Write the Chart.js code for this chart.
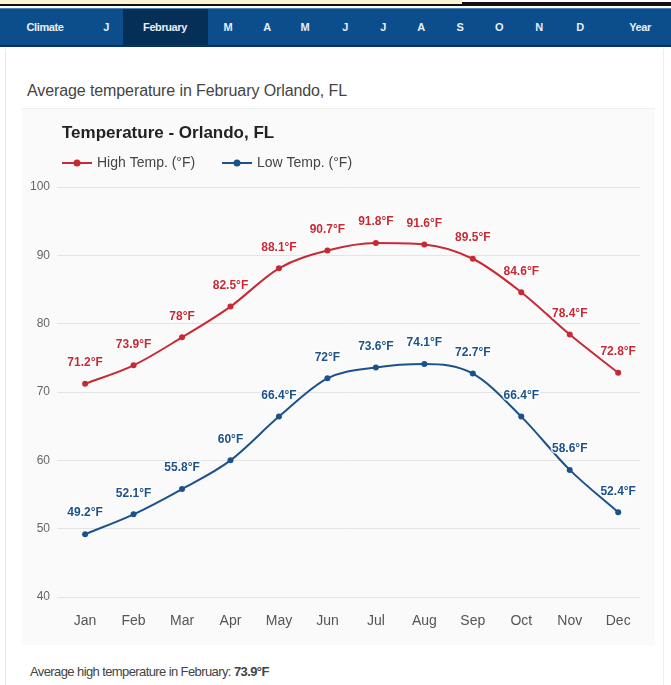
<!DOCTYPE html>
<html>
<head>
<meta charset="utf-8">
<script src="https://cdn.jsdelivr.net/npm/chart.js@4/dist/chart.umd.min.js"></script>
<style>
  html, body { margin: 0; padding: 0; background: #fff; width: 671px; height: 685px; overflow: hidden; font-family: "Liberation Sans", Arial, sans-serif; }
  #cream { position: absolute; left: 0; top: 0; width: 462px; height: 4px; background: #fbf3d5; }
  #blackline { position: absolute; left: 0; top: 4px; width: 671px; height: 2px; background: #111; }
  #blackline2 { position: absolute; left: 462px; top: 2px; width: 209px; height: 3px; background: #111; }
  #nav { position: absolute; left: 0; top: 8px; width: 671px; height: 39px; background: #0c4d8c; border-top: 1px solid #4a7fb5; border-bottom: 2px solid #07335f; box-sizing: border-box; }
  #navsel { position: absolute; left: 123px; top: 0; width: 85px; height: 100%; background: #062f58; }
  .ni { position: absolute; top: 12px; transform: translateX(-50%); color: #e8eef6; font-size: 11px; font-weight: bold; letter-spacing: -0.4px; white-space: nowrap; }
  #page { position: absolute; left: 5px; top: 49px; width: 657px; height: 640px; border-left: 1px solid #e8e8e8; border-right: 1px solid #eee; }
  #heading { position: absolute; left: 27px; top: 82px; font-size: 16px; color: #444; letter-spacing: -0.1px; white-space: nowrap; }
  #box { position: absolute; left: 22px; top: 108px; width: 633px; height: 537px; background: #fafafa; border-top: 1px solid #eee; box-sizing: border-box; }
  #cv { position: absolute; left: 22px; top: 108px; }
  #foot { position: absolute; left: 30px; top: 664px; font-size: 13px; color: #444; letter-spacing: -0.6px; white-space: nowrap; }
</style>
</head>
<body>
<div id="cream"></div>
<div id="blackline"></div>
<div id="blackline2"></div>
<div id="nav"><div id="navsel"></div></div>
<div id="page"></div>
<div id="heading">Average temperature in February Orlando, FL</div>
<div id="box"></div>
<canvas id="cv" width="633" height="537"></canvas>
<div id="foot">Average high temperature in February: <b>73.9°F</b></div>
<script>
// ---- data ----
const months = ["Jan","Feb","Mar","Apr","May","Jun","Jul","Aug","Sep","Oct","Nov","Dec"];
const highTemps = [71.2, 73.9, 78, 82.5, 88.1, 90.7, 91.8, 91.6, 89.5, 84.6, 78.4, 72.8];
const lowTemps = [49.2, 52.1, 55.8, 60, 66.4, 72, 73.6, 74.1, 72.7, 66.4, 58.6, 52.4];
const yTicks = [40, 50, 60, 70, 80, 90, 100];
const navLabels = ["Climate","J","February","M","A","M","J","J","A","S","O","N","D","Year"];
const navCenters = [45,106,165,228,267,305,345,383,421,460,499,539,580,640];
const chartTitle = "Temperature - Orlando, FL";
const highLabel = "High Temp. (°F)";
const lowLabel = "Low Temp. (°F)";

// nav
const nav = document.getElementById('nav');
navLabels.forEach((t, i) => {
  const d = document.createElement('div');
  d.className = 'ni';
  d.style.left = navCenters[i] + 'px';
  d.textContent = t;
  nav.appendChild(d);
});

const RED = 'rgb(200,42,52)';
const BLUE = 'rgb(28,82,140)';

const titleLegendPlugin = {
  id: 'titleLegend',
  afterDraw(chart) {
    const ctx = chart.ctx;
    ctx.save();
    ctx.fillStyle = '#222';
    ctx.font = 'bold 17px "Liberation Sans", Arial, sans-serif';
    ctx.textBaseline = 'middle';
    ctx.textAlign = 'left';
    ctx.fillText(chartTitle, 40, 25);
    const items = [[40, RED, chart.data.datasets[0].label], [200, BLUE, chart.data.datasets[1].label]];
    items.forEach(([x, c, txt]) => {
      ctx.strokeStyle = c; ctx.lineWidth = 2;
      ctx.beginPath(); ctx.moveTo(x, 55); ctx.lineTo(x + 30, 55); ctx.stroke();
      ctx.fillStyle = c;
      ctx.beginPath(); ctx.arc(x + 15, 55, 3.5, 0, Math.PI * 2); ctx.fill();
      ctx.fillStyle = '#444';
      ctx.font = '14px "Liberation Sans", Arial, sans-serif';
      ctx.fillText(txt, x + 35, 55);
    });
    ctx.restore();
  }
};

const dataLabelPlugin = {
  id: 'dataLabels',
  afterDatasetsDraw(chart) {
    const ctx = chart.ctx;
    ctx.save();
    ctx.font = 'bold 12px "Liberation Sans", Arial, sans-serif';
    ctx.textAlign = 'center';
    ctx.textBaseline = 'middle';
    chart.data.datasets.forEach((ds, di) => {
      const meta = chart.getDatasetMeta(di);
      meta.data.forEach((pt, i) => {
        const txt = ds.data[i].y + '°F';
        ctx.lineWidth = 3;
        ctx.strokeStyle = 'rgba(255,255,255,0.8)';
        ctx.strokeText(txt, pt.x, pt.y - 21);
        ctx.fillStyle = ds.borderColor;
        ctx.fillText(txt, pt.x, pt.y - 21);
      });
    });
    ctx.restore();
  }
};

new Chart(document.getElementById('cv'), {
  type: 'line',
  data: {
    datasets: [
      { label: highLabel, data: highTemps.map((v, i) => ({x: i, y: v})), borderColor: RED, backgroundColor: RED,
        borderWidth: 2, pointRadius: 3, pointBackgroundColor: RED, pointBorderWidth: 0, cubicInterpolationMode: 'monotone' },
      { label: lowLabel, data: lowTemps.map((v, i) => ({x: i, y: v})), borderColor: BLUE, backgroundColor: BLUE,
        borderWidth: 2, pointRadius: 3, pointBackgroundColor: BLUE, pointBorderWidth: 0, cubicInterpolationMode: 'monotone' }
    ]
  },
  options: {
    responsive: false,
    animation: false,
    layout: { padding: { top: 79, right: 15, left: 0, bottom: 0 } },
    plugins: { legend: { display: false }, title: { display: false }, tooltip: { enabled: false } },
    scales: {
      x: {
        type: 'linear', min: -0.58, max: 11.45,
        afterBuildTicks: s => { s.ticks = months.map((m, i) => ({ value: i })); },
        afterFit: s => { s.height = 48; },
        grid: { display: false }, border: { display: false },
        ticks: { padding: 8, color: '#555', font: { size: 14, family: '"Liberation Sans", Arial, sans-serif' },
          callback: v => months[v] }
      },
      y: {
        min: 40, max: 100,
        afterBuildTicks: s => { s.ticks = yTicks.map(v => ({ value: v })); },
        afterFit: s => { s.width = 35; },
        grid: { color: '#e4e4e4', drawTicks: false }, border: { display: false },
        ticks: { padding: 7, color: '#666', font: { size: 12, family: '"Liberation Sans", Arial, sans-serif' } }
      }
    }
  },
  plugins: [titleLegendPlugin, dataLabelPlugin]
});
</script>
</body>
</html>
